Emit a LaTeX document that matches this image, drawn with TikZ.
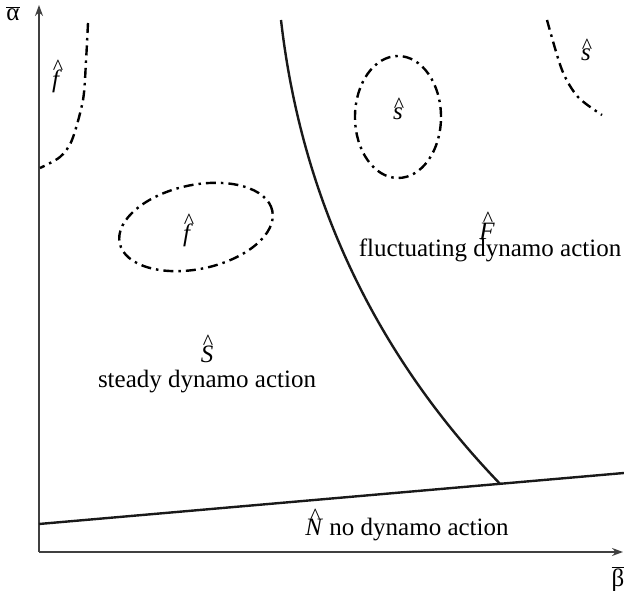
\documentclass[tikz,border=0pt]{standalone}
\usepackage{fontspec}
\setmainfont{Liberation Serif}
\usetikzlibrary{arrows.meta}
\tikzset{
  axis/.style={line width=1.4pt, draw=black!75, -{Stealth[length=11pt,width=8pt]}},
  boundary/.style={line width=2.4pt, draw=black!90},
  dashdot/.style={line width=2.4pt, dash pattern=on 10pt off 5pt on 2.5pt off 5pt},
  lbl/.style={font=\fontsize{25}{30}\selectfont, inner sep=0pt}
}
% italic letter with a tall thin hat over it
\newcommand{\hatit}[1]{\begingroup\setbox0\hbox{\textit{#1}}%
  \ooalign{\copy0\cr\hidewidth\kern2pt\raisebox{\dimexpr\ht0-4pt}{\fontsize{22}{22}\selectfont\^{}}\hidewidth\cr}\endgroup}
\begin{document}
\begin{tikzpicture}[x=1pt,y=1pt]
        \useasboundingbox (0,0) rectangle (624,591);
        % Axes
        \coordinate (O) at (39,39);
        \draw[axis] (O) -- (39,586) coordinate (ytip);
        \draw[axis] (O) -- (623,39) coordinate (xtip);
        \node[lbl] (alpha) at (13,577) {$\overline{\mbox{α}}$};
        \node[lbl] (beta) at (618,12) {$\overline{\mbox{β}}$};
        % Boundaries
        \coordinate (nl) at (39,67);
        \coordinate (nr) at (624,118);
        \coordinate (junc) at (500,107.2);
        \coordinate (ctop) at (281,571);
        \draw[boundary] (nl) -- (nr);
        \draw[boundary] (ctop) .. controls (305,361) and (400,211) .. (junc);
        % Dash-dot regions
        \draw[dashdot] plot[smooth] coordinates {(88,568) (86,530) (83,491) (72,451) (60,434) (40,423)};
        \draw[dashdot] plot[smooth] coordinates {(547,571) (562,521) (578,494) (602,476)};
        \draw[dashdot] (398,474) ellipse [x radius=43, y radius=61];
        \draw[dashdot, rotate around={12:(196,364)}] (196,364) ellipse [x radius=78, y radius=42];
        % Labels
        \node[lbl] (fL) at (57,512) {\hatit{f}};
        \node[lbl] (fE) at (188,358) {\hatit{f}};
        \node[lbl] (sE) at (398,477) {\hatit{s}};
        \node[lbl] (sR) at (586,536) {\hatit{s}};
        \node[lbl] (F) at (487,360) {\hatit{F}};
        \node[lbl] (Ftxt) at (490,341) {fluctuating dynamo action};
        \node[lbl] (S) at (207,237) {\hatit{S}};
        \node[lbl] (Stxt) at (207,209) {steady dynamo action};
        \node[lbl] (N) at (407,61) {\hatit{N} no dynamo action};
    \end{tikzpicture}
\end{document}
